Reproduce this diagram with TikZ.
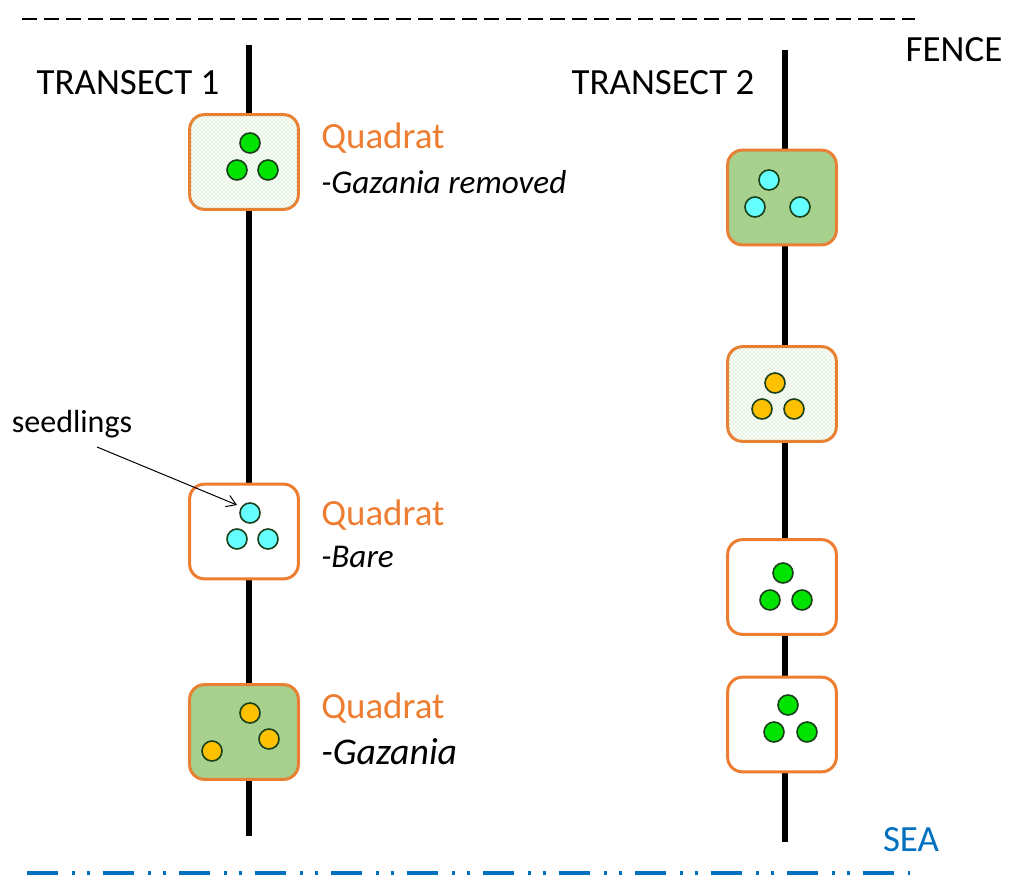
\documentclass[tikz,border=0pt]{standalone}
\usepackage{fontspec}
\setmainfont{Carlito}
\usetikzlibrary{patterns,arrows.meta}
\definecolor{qorange}{RGB}{237,125,49}
\definecolor{seablue}{RGB}{0,112,192}
\definecolor{leafgreen}{RGB}{0,226,0}
\definecolor{seedcyan}{RGB}{102,255,255}
\definecolor{gazyellow}{RGB}{255,192,0}
\definecolor{rimgreen}{RGB}{25,65,25}
\definecolor{matgreen}{RGB}{171,212,145}
\definecolor{dotgreen}{RGB}{135,200,105}
\tikzstyle{quadrat}=[draw=qorange, line width=2.25pt, rounded corners=11pt, minimum width=81.5pt, minimum height=71pt, inner sep=0pt, fill=white]
\tikzstyle{sparse}=[postaction={pattern=crosshatch dots, pattern color=dotgreen}]
\tikzstyle{dense}=[fill=matgreen, postaction={pattern=crosshatch dots, pattern color=matgreen!85!black}]
\tikzstyle{plant}=[circle, draw=rimgreen, line width=1.2pt, inner sep=0pt, minimum size=15pt]
\tikzstyle{bigtext}=[font=\fontsize{27.7pt}{33pt}\selectfont, inner sep=0pt]
\tikzstyle{smalltext}=[font=\fontsize{24.9pt}{29pt}\selectfont\itshape, inner sep=0pt, anchor=west]
\newcommand{\plant}{\node[plant]}

\begin{document}
\begin{tikzpicture}[x=0.75pt,y=-0.75pt]
\useasboundingbox (0,0) rectangle (1009,874);
% fence and sea
\coordinate (fenceW) at (22,19);
\coordinate (fenceE) at (915,19);
\draw[line width=1.9pt, dash pattern=on 11.25pt off 5.25pt] (fenceW) -- (fenceE);
\node[bigtext] (fence) at (954,50) {FENCE};
\node[bigtext, text=seablue] (sea) at (911,840) {SEA};
\coordinate (seaW) at (27,873.5);
\coordinate (seaE) at (910,873.5);
\draw[seablue, line width=3.75pt, dash pattern=on 23.25pt off 10.5pt on 2.25pt off 9pt on 2.25pt off 9.75pt] (seaW) -- (seaE);
% transects
\coordinate (t1top) at (249,45);
\coordinate (t1bot) at (249,836);
\coordinate (t2top) at (785,50);
\coordinate (t2bot) at (785,842);
\draw[line width=4.5pt] (t1top) -- (t1bot) (t2top) -- (t2bot);
\node[bigtext] (title1) at (128,83) {TRANSECT 1};
\node[bigtext] (title2) at (663,83) {TRANSECT 2};
% quadrats on transect 1
\node[quadrat, sparse] (q1) at (244,162) {};
\node[quadrat] (q2) at (244,531.5) {};
\node[quadrat, dense] (q3) at (244,732) {};
% quadrats on transect 2
\node[quadrat, dense] (q4) at (782,197.5) {};
\node[quadrat, sparse] (q5) at (782,394) {};
\node[quadrat] (q6) at (782,587) {};
\node[quadrat] (q7) at (782,724.5) {};
% plants
\plant[fill=leafgreen] (p1a) at (250,143) {};
\plant[fill=leafgreen] (p1b) at (237,170) {};
\plant[fill=leafgreen] (p1c) at (268,170) {};
\plant[fill=seedcyan] (p2a) at (250,513) {};
\plant[fill=seedcyan] (p2b) at (237,539) {};
\plant[fill=seedcyan] (p2c) at (268,539) {};
\plant[fill=gazyellow] (p3a) at (250,713) {};
\plant[fill=gazyellow] (p3b) at (269,739) {};
\plant[fill=gazyellow] (p3c) at (212,751) {};
\plant[fill=seedcyan] (p4a) at (769,180) {};
\plant[fill=seedcyan] (p4b) at (755,207) {};
\plant[fill=seedcyan] (p4c) at (800,207) {};
\plant[fill=gazyellow] (p5a) at (775,383) {};
\plant[fill=gazyellow] (p5b) at (762,409) {};
\plant[fill=gazyellow] (p5c) at (794,409) {};
\plant[fill=leafgreen] (p6a) at (783,573) {};
\plant[fill=leafgreen] (p6b) at (770,600) {};
\plant[fill=leafgreen] (p6c) at (802,600) {};
\plant[fill=leafgreen] (p7a) at (788,705) {};
\plant[fill=leafgreen] (p7b) at (774,732) {};
\plant[fill=leafgreen] (p7c) at (807,732) {};
% labels
\node[bigtext, anchor=west, text=qorange] (lab1) at (321,138) {Quadrat};
\node[smalltext] (sub1) at (321,182) {-Gazania removed};
\node[bigtext, anchor=west, text=qorange] (lab2) at (321,515) {Quadrat};
\node[smalltext] (sub2) at (321,557) {-Bare};
\node[smalltext, font=\fontsize{28.3pt}{33pt}\selectfont\itshape] (sub3) at (321,752) {-Gazania};
\node[bigtext, anchor=west, text=qorange] (lab3) at (321,708) {Quadrat};
% seedlings pointer
\node[font=\fontsize{24pt}{29pt}\selectfont, inner sep=0pt] (seedlings) at (72,424) {seedlings};
\coordinate (seedtail) at (97,447);
\coordinate (seedtip) at (237,505);
\draw[line width=0.75pt, -{Straight Barb[length=7pt,width=9pt]}] (seedtail) -- (seedtip);
\end{tikzpicture}
\end{document}
